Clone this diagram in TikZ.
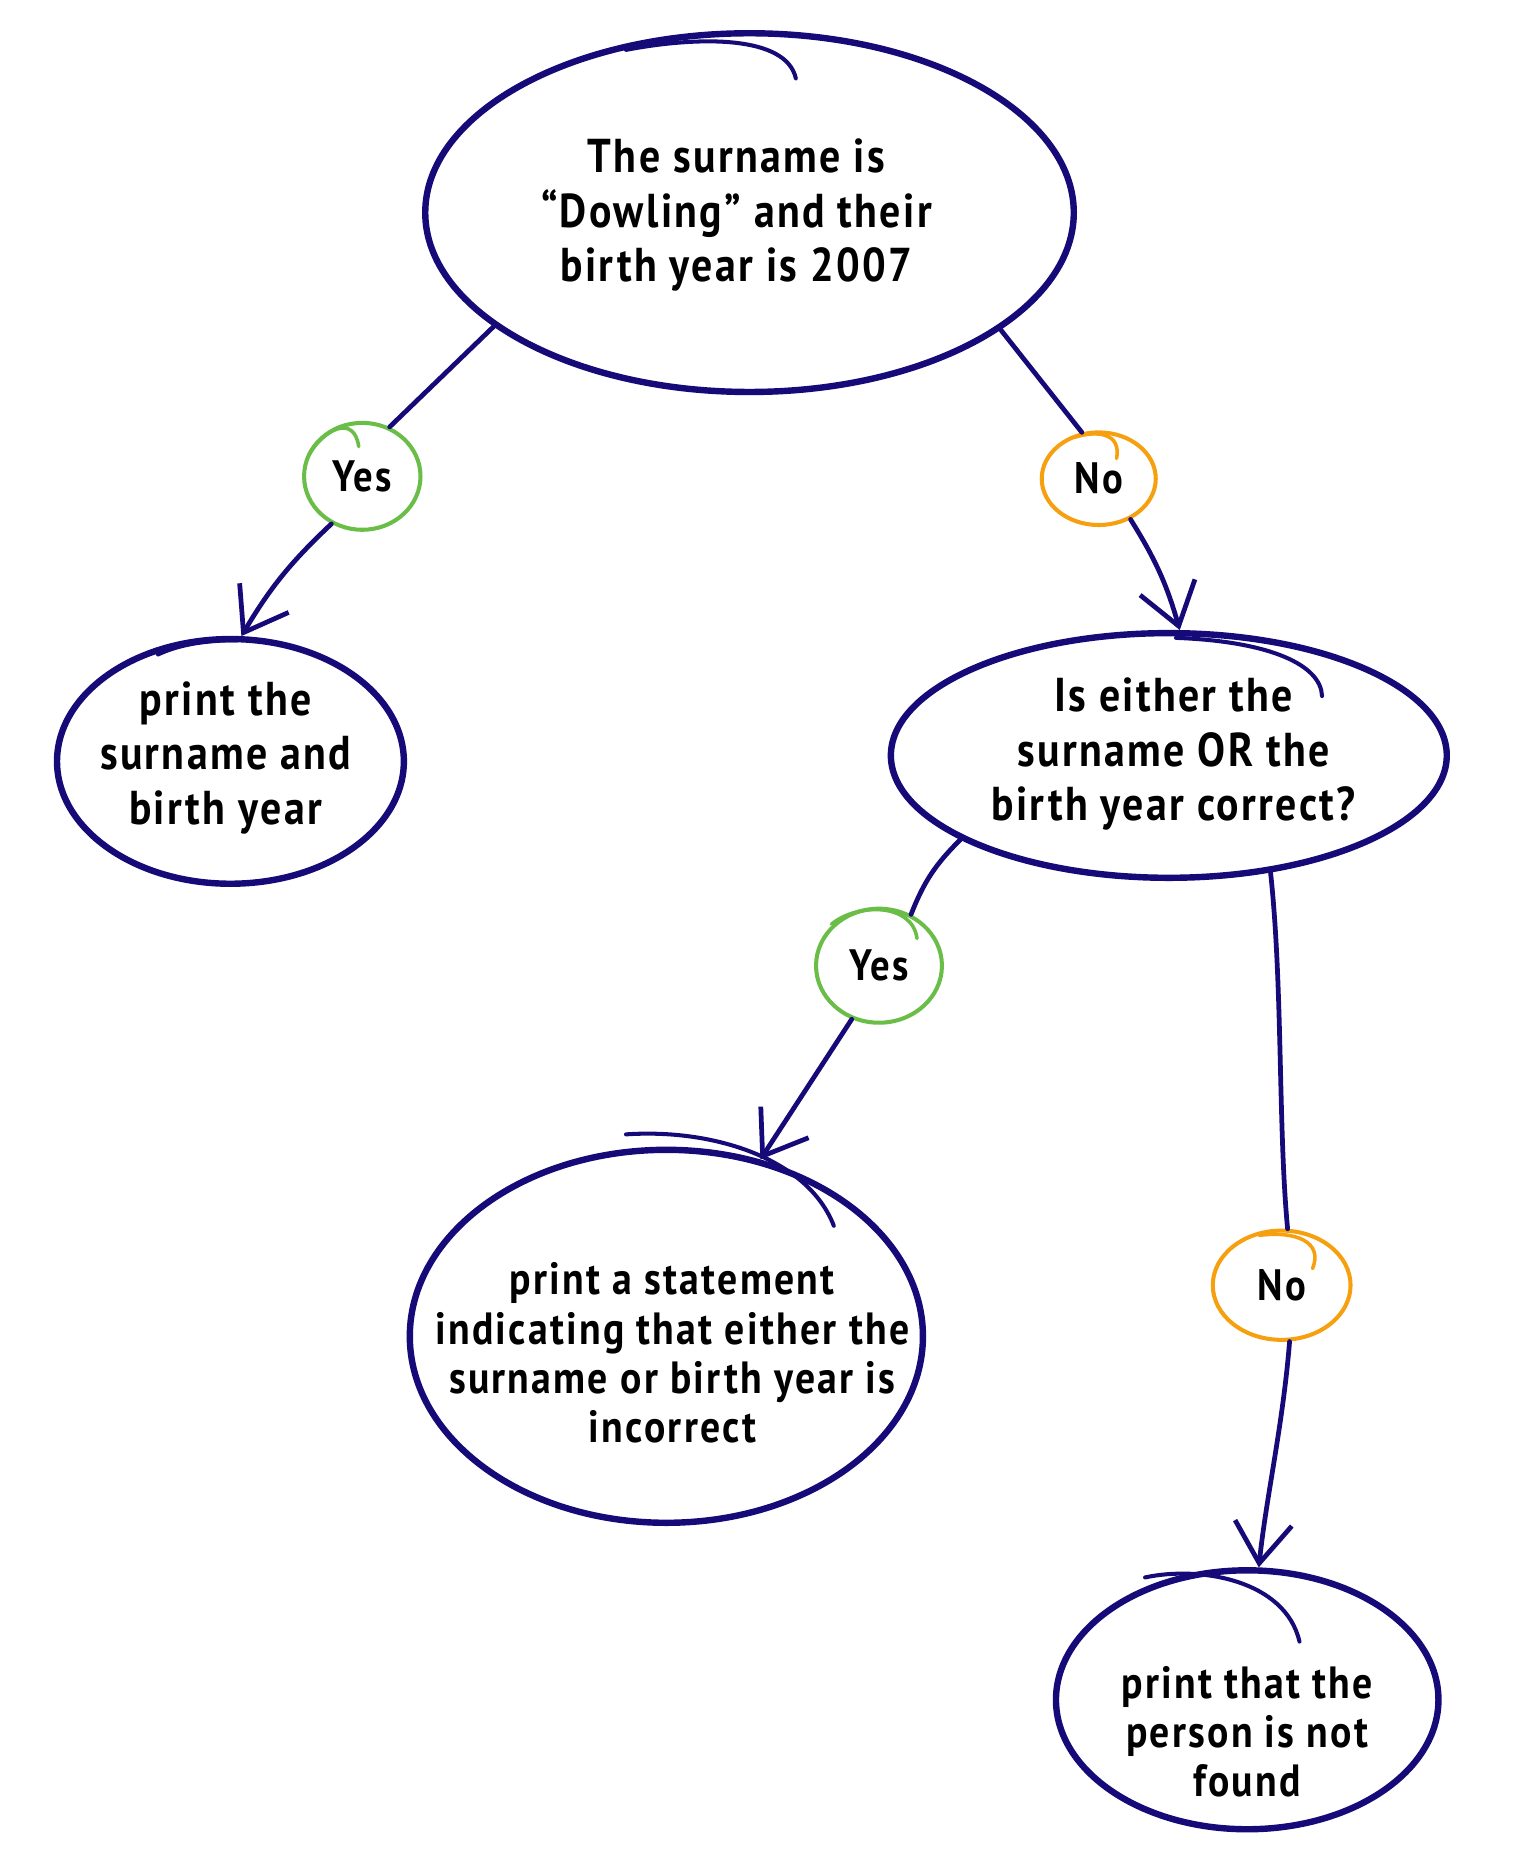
\documentclass[tikz,border=0pt]{standalone}
\usepackage{fontspec}
\usetikzlibrary{shapes.geometric,arrows.meta}
\newfontfamily\hand{PT Sans}[FakeStretch=0.88,LetterSpace=5]
\definecolor{navy}{RGB}{22,10,120}
\definecolor{okgreen}{RGB}{106,190,72}
\definecolor{noorange}{RGB}{246,160,16}
\tikzset{
  bubble/.style={ellipse,draw=navy,line width=5.4pt,inner sep=0pt},
  tag/.style={ellipse,line width=3.4pt,inner sep=0pt,text=black,
    font=\hand\bfseries\fontsize{37}{40}\selectfont},
  yestag/.style={tag,draw=okgreen},
  notag/.style={tag,draw=noorange},
  bigtext/.style={align=center,text=black,inner sep=0pt,
    font=\hand\bfseries\fontsize{40}{46}\selectfont},
  midtext/.style={align=center,text=black,inner sep=0pt,
    font=\hand\bfseries\fontsize{38}{41.5}\selectfont},
  link/.style={draw=navy,line width=4pt,line cap=round},
  arrowlink/.style={link,-{Straight Barb[length=34pt,width=48pt,line width=4pt]}},
  tail/.style={draw=navy,line width=3.4pt,line cap=round},
  greentail/.style={draw=okgreen,line width=3pt,line cap=round},
  orangetail/.style={draw=noorange,line width=3pt,line cap=round}
}
\begin{document}
\begin{tikzpicture}[x=1pt,y=-1pt]
\useasboundingbox (0,0) rectangle (1280,1576);
\fill[white] (0,0) rectangle (1280,1576);

% nodes
\node[bubble,minimum width=546pt,minimum height=302pt] (top) at (631,179) {};
\node[bigtext] (toptext) at (620,181) {The surname is\\“Dowling” and their\\birth year is 2007};

\node[yestag,minimum width=98pt,minimum height=90pt] (yes1) at (305,401) {Yes};
\node[notag,minimum width=96pt,minimum height=78pt] (no1) at (925,403) {No};

\node[bubble,minimum width=292pt,minimum height=206pt] (left) at (194,641) {};
\node[bigtext] (lefttext) at (190,638) {print the\\surname and\\birth year};

\node[bubble,minimum width=468pt,minimum height=206pt] (right) at (984,636) {};
\node[bigtext] (righttext) at (988,635) {Is either the\\surname OR the\\birth year correct?};

\node[yestag,minimum width=106pt,minimum height=96pt] (yes2) at (740,813) {Yes};
\node[notag,minimum width=116pt,minimum height=92pt] (no2) at (1079,1082) {No};

\node[bubble,minimum width=432pt,minimum height=314pt] (stmt) at (561,1125) {};
\node[midtext] (stmttext) at (566,1139) {print a statement\\indicating that either the\\surname or birth year is\\incorrect};

\node[bubble,minimum width=322pt,minimum height=218pt] (bottom) at (1050,1431) {};
\node[midtext] (bottomtext) at (1050,1458) {print that the\\person is not\\found};

% sketch overshoots of the hand-drawn outlines
\draw[tail] (527,42) .. controls (590,30) and (662,30) .. (670,66);
\draw[tail] (133,551) .. controls (150,543) and (172,539) .. (200,539);
\draw[tail] (990,537) .. controls (1070,540) and (1112,560) .. (1113,586);
\draw[tail] (527,955) .. controls (600,950) and (680,975) .. (702,1032);
\draw[tail] (964,1328) .. controls (1010,1318) and (1082,1330) .. (1094,1382);
\draw[greentail] (260,383) .. controls (272,362) and (298,348) .. (302,376);
\draw[greentail] (700,778) .. controls (722,760) and (768,760) .. (772,790);
\draw[orangetail] (905,368) .. controls (925,362) and (944,365) .. (940,386);
\draw[orangetail] (1060,1040) .. controls (1092,1036) and (1114,1046) .. (1105,1068);

% connectors
\draw[link] (top.204) -- (yes1.61);
\draw[arrowlink] (yes1.237) to[bend right=8] (left.85);
\draw[link] (top.335) -- (no1.110);
\draw[arrowlink] (no1.308) to[bend left=8] (right.85);
\draw[link] (right.202) to[bend right=12] (yes2.58);
\draw[arrowlink] (yes2.243) -- (stmt.62);
\draw[link] (right.311) .. controls (1080,830) and (1076,950) .. (no2.84);
\draw[arrowlink] (no2.278) .. controls (1080,1200) and (1066,1260) .. (bottom.85);
\end{tikzpicture}
\end{document}
